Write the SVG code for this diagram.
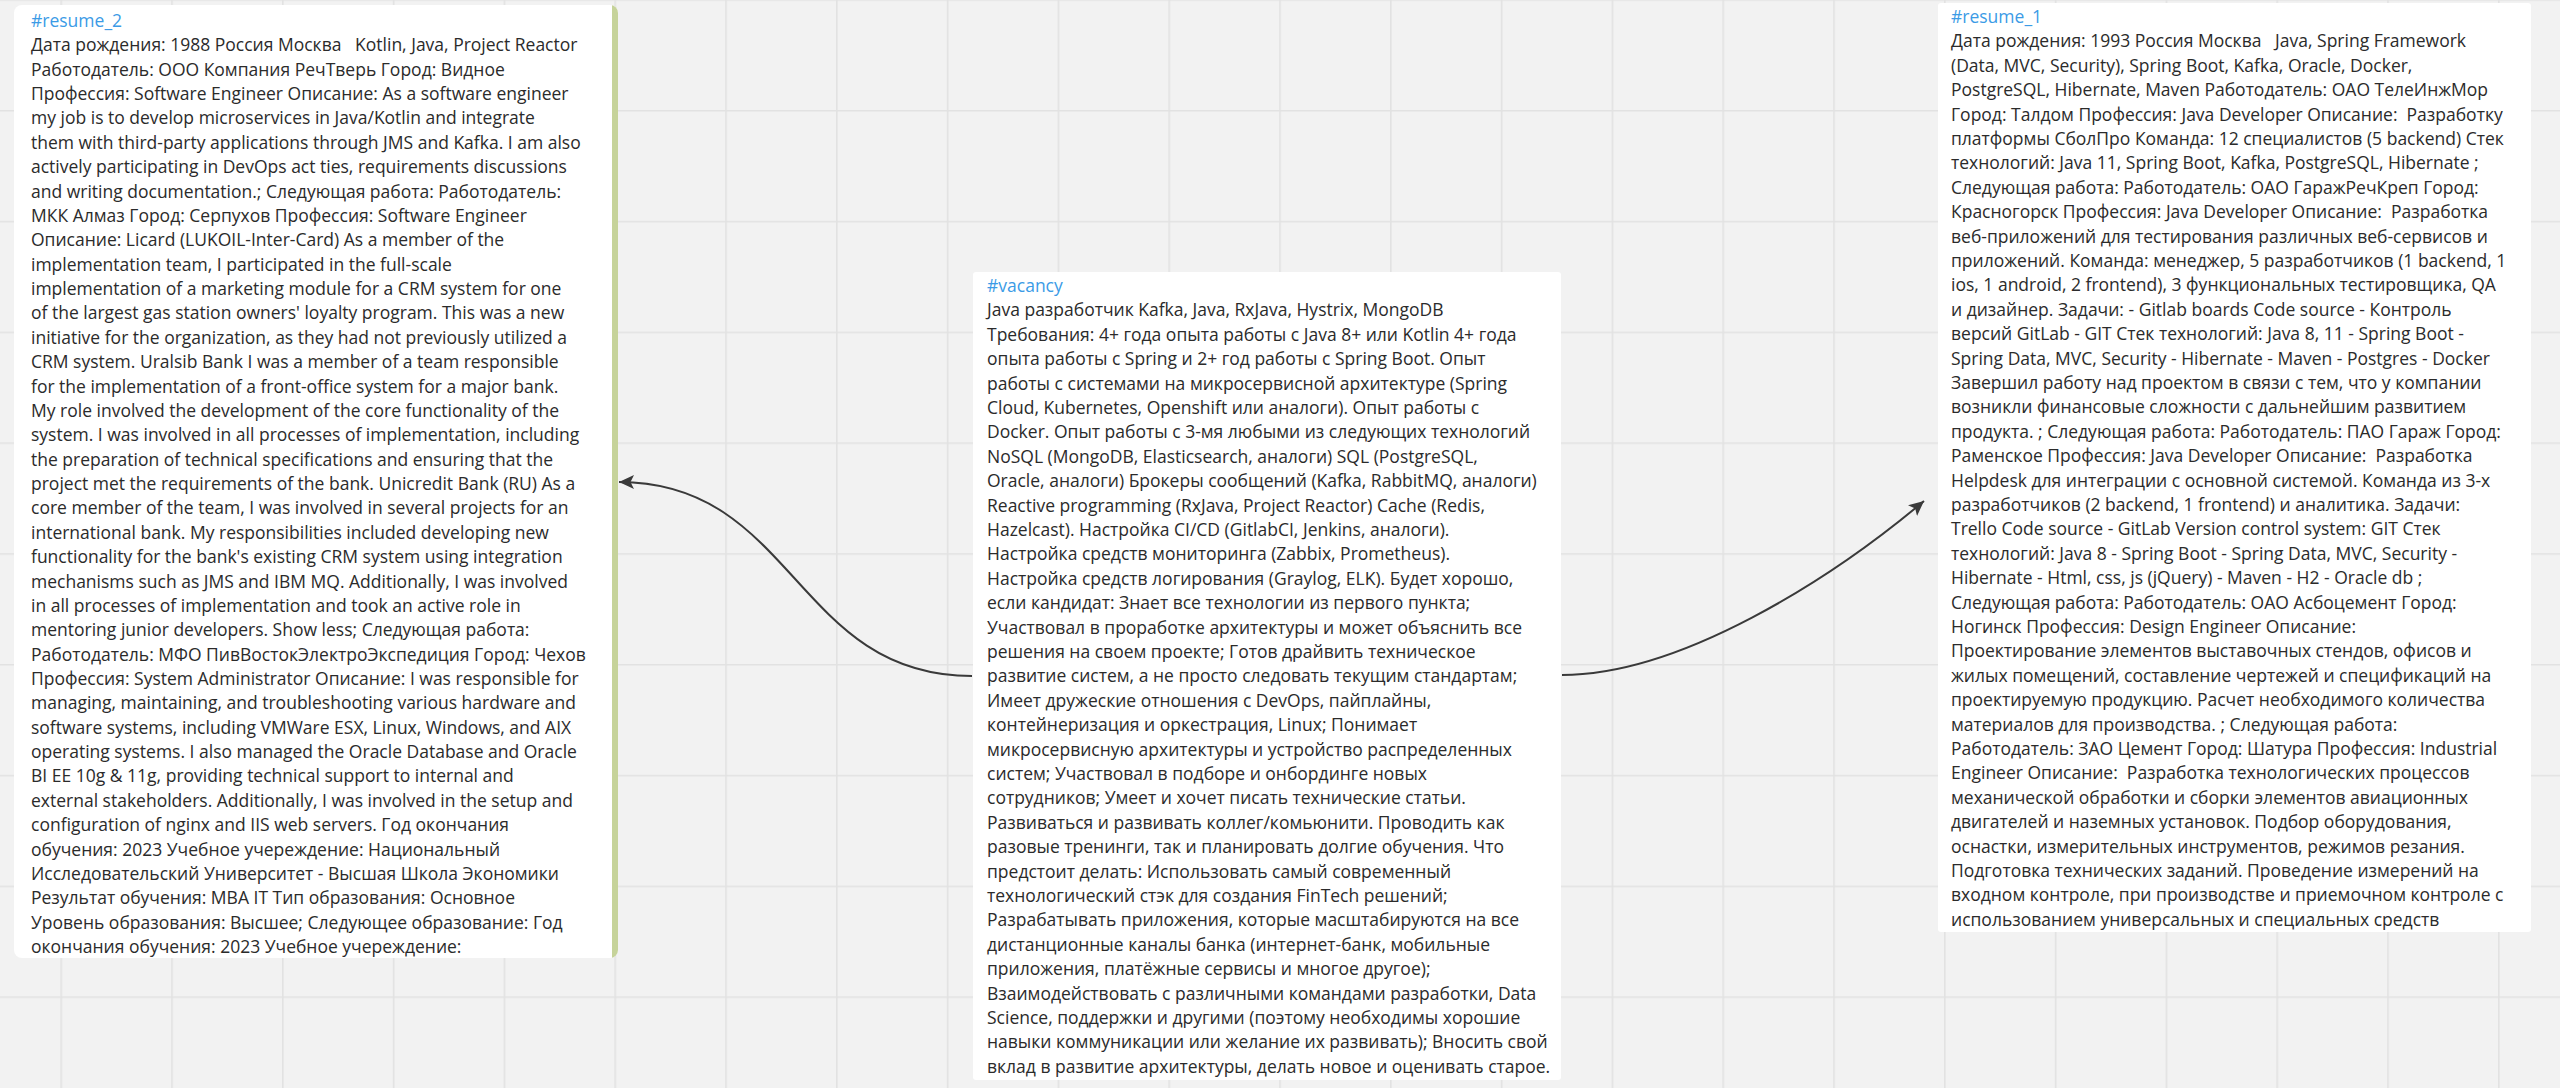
<svg xmlns="http://www.w3.org/2000/svg" width="2560" height="1088" viewBox="0 0 2560 1088">
<style>
.bg{fill:#f2f2f2}
.card{fill:#ffffff}
.txt{font-family:"Open Sans","Noto Sans","Noto Sans CJK SC",sans-serif;font-size:17.5px;fill:#2b2b2b}
.tag{fill:#3b9be6}
.edge{fill:none;stroke:#3a3a3a;stroke-width:2}
</style>
<defs>
<pattern id="grid" patternUnits="userSpaceOnUse" x="60.4" y="-0.8" width="110.8" height="110.8">
<path d="M0,0.8 H110.8 M0.8,0 V110.8" stroke="#e2e2e2" stroke-width="1.6" fill="none"/>
</pattern>
<marker id="arrow" markerUnits="userSpaceOnUse" markerWidth="16" markerHeight="14" refX="15" refY="7" orient="auto">
<path d="M0,0 L15,7 L0,14 L3.5,7 Z" fill="#3a3a3a"/>
</marker>
<clipPath id="clipR2"><rect x="14" y="5" width="604" height="953" rx="8"/></clipPath>
</defs>
<rect class="bg" x="0" y="0" width="2560" height="1088"/>
<rect x="0" y="0" width="2560" height="1088" fill="url(#grid)"/>

<g id="connectors">
<path class="edge" d="M972,676 C795,676 795,482 619,482" marker-end="url(#arrow)"/>
<path class="edge" d="M1562,675 C1680,675 1830,580 1924,501" marker-end="url(#arrow)"/>
</g>

<g id="resume_2">
<g clip-path="url(#clipR2)">
<rect class="card" x="14" y="5" width="604" height="953"/>
<rect x="612" y="5" width="6" height="953" fill="#c6d39a"/>
</g>
<text class="txt" xml:space="preserve"><tspan class="tag" x="31" y="27">#resume_2</tspan><tspan x="31" dy="24.37">Дата рождения: 1988 Россия Москва   Kotlin, Java, Project Reactor</tspan><tspan x="31" dy="24.37">Работодатель: ООО Компания РечТверь Город: Видное</tspan><tspan x="31" dy="24.37">Профессия: Software Engineer Описание: As a software engineer</tspan><tspan x="31" dy="24.37">my job is to develop microservices in Java/Kotlin and integrate</tspan><tspan x="31" dy="24.37">them with third-party applications through JMS and Kafka. I am also</tspan><tspan x="31" dy="24.37">actively participating in DevOps act ties, requirements discussions</tspan><tspan x="31" dy="24.37">and writing documentation.; Следующая работа: Работодатель:</tspan><tspan x="31" dy="24.37">МКК Алмаз Город: Серпухов Профессия: Software Engineer</tspan><tspan x="31" dy="24.37">Описание: Licard (LUKOIL-Inter-Card) As a member of the</tspan><tspan x="31" dy="24.37">implementation team, I participated in the full-scale</tspan><tspan x="31" dy="24.37">implementation of a marketing module for a CRM system for one</tspan><tspan x="31" dy="24.37">of the largest gas station owners' loyalty program. This was a new</tspan><tspan x="31" dy="24.37">initiative for the organization, as they had not previously utilized a</tspan><tspan x="31" dy="24.37">CRM system. Uralsib Bank I was a member of a team responsible</tspan><tspan x="31" dy="24.37">for the implementation of a front-office system for a major bank.</tspan><tspan x="31" dy="24.37">My role involved the development of the core functionality of the</tspan><tspan x="31" dy="24.37">system. I was involved in all processes of implementation, including</tspan><tspan x="31" dy="24.37">the preparation of technical specifications and ensuring that the</tspan><tspan x="31" dy="24.37">project met the requirements of the bank. Unicredit Bank (RU) As a</tspan><tspan x="31" dy="24.37">core member of the team, I was involved in several projects for an</tspan><tspan x="31" dy="24.37">international bank. My responsibilities included developing new</tspan><tspan x="31" dy="24.37">functionality for the bank's existing CRM system using integration</tspan><tspan x="31" dy="24.37">mechanisms such as JMS and IBM MQ. Additionally, I was involved</tspan><tspan x="31" dy="24.37">in all processes of implementation and took an active role in</tspan><tspan x="31" dy="24.37">mentoring junior developers. Show less; Следующая работа:</tspan><tspan x="31" dy="24.37">Работодатель: МФО ПивВостокЭлектроЭкспедиция Город: Чехов</tspan><tspan x="31" dy="24.37">Профессия: System Administrator Описание: I was responsible for</tspan><tspan x="31" dy="24.37">managing, maintaining, and troubleshooting various hardware and</tspan><tspan x="31" dy="24.37">software systems, including VMWare ESX, Linux, Windows, and AIX</tspan><tspan x="31" dy="24.37">operating systems. I also managed the Oracle Database and Oracle</tspan><tspan x="31" dy="24.37">BI EE 10g &amp; 11g, providing technical support to internal and</tspan><tspan x="31" dy="24.37">external stakeholders. Additionally, I was involved in the setup and</tspan><tspan x="31" dy="24.37">configuration of nginx and IIS web servers. Год окончания</tspan><tspan x="31" dy="24.37">обучения: 2023 Учебное учереждение: Национальный</tspan><tspan x="31" dy="24.37">Исследовательский Университет - Высшая Школа Экономики</tspan><tspan x="31" dy="24.37">Результат обучения: MBA IT Тип образования: Основное</tspan><tspan x="31" dy="24.37">Уровень образования: Высшее; Следующее образование: Год</tspan><tspan x="31" dy="24.37">окончания обучения: 2023 Учебное учереждение:</tspan></text>
</g>

<g id="vacancy">
<rect class="card" x="973" y="272" width="588" height="808" rx="3"/>
<text class="txt" xml:space="preserve"><tspan class="tag" x="987" y="292">#vacancy</tspan><tspan x="987" dy="24.4">Java разработчик Kafka, Java, RxJava, Hystrix, MongoDB</tspan><tspan x="987" dy="24.4">Требования: 4+ года опыта работы с Java 8+ или Kotlin 4+ года</tspan><tspan x="987" dy="24.4">опыта работы с Spring и 2+ год работы с Spring Boot. Опыт</tspan><tspan x="987" dy="24.4">работы с системами на микросервисной архитектуре (Spring</tspan><tspan x="987" dy="24.4">Cloud, Kubernetes, Openshift или аналоги). Опыт работы с</tspan><tspan x="987" dy="24.4">Docker. Опыт работы с 3-мя любыми из следующих технологий</tspan><tspan x="987" dy="24.4">NoSQL (MongoDB, Elasticsearch, аналоги) SQL (PostgreSQL,</tspan><tspan x="987" dy="24.4">Oracle, аналоги) Брокеры сообщений (Kafka, RabbitMQ, аналоги)</tspan><tspan x="987" dy="24.4">Reactive programming (RxJava, Project Reactor) Cache (Redis,</tspan><tspan x="987" dy="24.4">Hazelcast). Настройка CI/CD (GitlabCI, Jenkins, аналоги).</tspan><tspan x="987" dy="24.4">Настройка средств мониторинга (Zabbix, Prometheus).</tspan><tspan x="987" dy="24.4">Настройка средств логирования (Graylog, ELK). Будет хорошо,</tspan><tspan x="987" dy="24.4">если кандидат: Знает все технологии из первого пункта;</tspan><tspan x="987" dy="24.4">Участвовал в проработке архитектуры и может объяснить все</tspan><tspan x="987" dy="24.4">решения на своем проекте; Готов драйвить техническое</tspan><tspan x="987" dy="24.4">развитие систем, а не просто следовать текущим стандартам;</tspan><tspan x="987" dy="24.4">Имеет дружеские отношения с DevOps, пайплайны,</tspan><tspan x="987" dy="24.4">контейнеризация и оркестрация, Linux; Понимает</tspan><tspan x="987" dy="24.4">микросервисную архитектуры и устройство распределенных</tspan><tspan x="987" dy="24.4">систем; Участвовал в подборе и онбординге новых</tspan><tspan x="987" dy="24.4">сотрудников; Умеет и хочет писать технические статьи.</tspan><tspan x="987" dy="24.4">Развиваться и развивать коллег/комьюнити. Проводить как</tspan><tspan x="987" dy="24.4">разовые тренинги, так и планировать долгие обучения. Что</tspan><tspan x="987" dy="24.4">предстоит делать: Использовать самый современный</tspan><tspan x="987" dy="24.4">технологический стэк для создания FinTech решений;</tspan><tspan x="987" dy="24.4">Разрабатывать приложения, которые масштабируются на все</tspan><tspan x="987" dy="24.4">дистанционные каналы банка (интернет-банк, мобильные</tspan><tspan x="987" dy="24.4">приложения, платёжные сервисы и многое другое);</tspan><tspan x="987" dy="24.4">Взаимодействовать с различными командами разработки, Data</tspan><tspan x="987" dy="24.4">Science, поддержки и другими (поэтому необходимы хорошие</tspan><tspan x="987" dy="24.4">навыки коммуникации или желание их развивать); Вносить свой</tspan><tspan x="987" dy="24.4">вклад в развитие архитектуры, делать новое и оценивать старое.</tspan></text>
</g>

<g id="resume_1">
<rect class="card" x="1938" y="3" width="593" height="929" rx="3"/>
<text class="txt" xml:space="preserve"><tspan class="tag" x="1951" y="23">#resume_1</tspan><tspan x="1951" dy="24.4">Дата рождения: 1993 Россия Москва   Java, Spring Framework</tspan><tspan x="1951" dy="24.4">(Data, MVC, Security), Spring Boot, Kafka, Oracle, Docker,</tspan><tspan x="1951" dy="24.4">PostgreSQL, Hibernate, Maven Работодатель: ОАО ТелеИнжМор</tspan><tspan x="1951" dy="24.4">Город: Талдом Профессия: Java Developer Описание:  Разработку</tspan><tspan x="1951" dy="24.4">платформы СболПро Команда: 12 специалистов (5 backend) Стек</tspan><tspan x="1951" dy="24.4">технологий: Java 11, Spring Boot, Kafka, PostgreSQL, Hibernate ;</tspan><tspan x="1951" dy="24.4">Следующая работа: Работодатель: ОАО ГаражРечКреп Город:</tspan><tspan x="1951" dy="24.4">Красногорск Профессия: Java Developer Описание:  Разработка</tspan><tspan x="1951" dy="24.4">веб-приложений для тестирования различных веб-сервисов и</tspan><tspan x="1951" dy="24.4">приложений. Команда: менеджер, 5 разработчиков (1 backend, 1</tspan><tspan x="1951" dy="24.4">ios, 1 android, 2 frontend), 3 функциональных тестировщика, QA</tspan><tspan x="1951" dy="24.4">и дизайнер. Задачи: - Gitlab boards Code source - Контроль</tspan><tspan x="1951" dy="24.4">версий GitLab - GIT Стек технологий: Java 8, 11 - Spring Boot -</tspan><tspan x="1951" dy="24.4">Spring Data, MVC, Security - Hibernate - Maven - Postgres - Docker</tspan><tspan x="1951" dy="24.4">Завершил работу над проектом в связи с тем, что у компании</tspan><tspan x="1951" dy="24.4">возникли финансовые сложности с дальнейшим развитием</tspan><tspan x="1951" dy="24.4">продукта. ; Следующая работа: Работодатель: ПАО Гараж Город:</tspan><tspan x="1951" dy="24.4">Раменское Профессия: Java Developer Описание:  Разработка</tspan><tspan x="1951" dy="24.4">Helpdesk для интеграции с основной системой. Команда из 3-х</tspan><tspan x="1951" dy="24.4">разработчиков (2 backend, 1 frontend) и аналитика. Задачи:</tspan><tspan x="1951" dy="24.4">Trello Code source - GitLab Version control system: GIT Стек</tspan><tspan x="1951" dy="24.4">технологий: Java 8 - Spring Boot - Spring Data, MVC, Security -</tspan><tspan x="1951" dy="24.4">Hibernate - Html, css, js (jQuery) - Maven - H2 - Oracle db ;</tspan><tspan x="1951" dy="24.4">Следующая работа: Работодатель: ОАО Асбоцемент Город:</tspan><tspan x="1951" dy="24.4">Ногинск Профессия: Design Engineer Описание:</tspan><tspan x="1951" dy="24.4">Проектирование элементов выставочных стендов, офисов и</tspan><tspan x="1951" dy="24.4">жилых помещений, составление чертежей и спецификаций на</tspan><tspan x="1951" dy="24.4">проектируемую продукцию. Расчет необходимого количества</tspan><tspan x="1951" dy="24.4">материалов для производства. ; Следующая работа:</tspan><tspan x="1951" dy="24.4">Работодатель: ЗАО Цемент Город: Шатура Профессия: Industrial</tspan><tspan x="1951" dy="24.4">Engineer Описание:  Разработка технологических процессов</tspan><tspan x="1951" dy="24.4">механической обработки и сборки элементов авиационных</tspan><tspan x="1951" dy="24.4">двигателей и наземных установок. Подбор оборудования,</tspan><tspan x="1951" dy="24.4">оснастки, измерительных инструментов, режимов резания.</tspan><tspan x="1951" dy="24.4">Подготовка технических заданий. Проведение измерений на</tspan><tspan x="1951" dy="24.4">входном контроле, при производстве и приемочном контроле с</tspan><tspan x="1951" dy="24.4">использованием универсальных и специальных средств</tspan></text>
</g>
</svg>
